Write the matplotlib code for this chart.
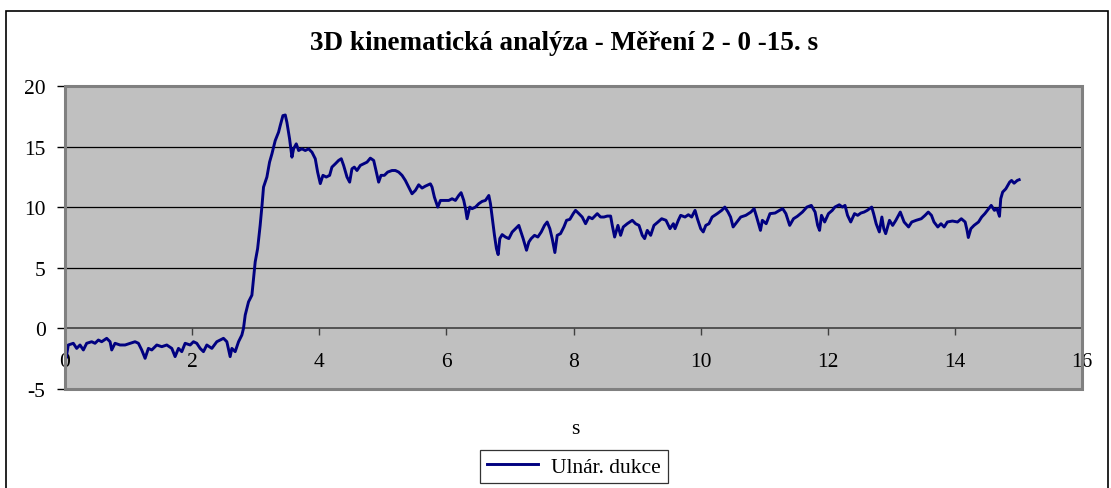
import matplotlib
matplotlib.use('Agg')
from matplotlib import pyplot as plt
from matplotlib.patches import Rectangle

#values (time in s, angle)
time_s = [0.0, 0.016, 0.052, 0.131, 0.184, 0.236, 0.289, 0.341, 0.42, 0.472,
          0.525, 0.577, 0.656, 0.709, 0.735, 0.787, 0.866, 0.945, 1.024, 1.102,
          1.155, 1.207, 1.26, 1.312, 1.365, 1.444, 1.522, 1.601, 1.68, 1.732,
          1.785, 1.837, 1.89, 1.969, 2.021, 2.073, 2.126, 2.178, 2.231, 2.31,
          2.388, 2.441, 2.493, 2.546, 2.598, 2.625, 2.677, 2.73, 2.782, 2.808,
          2.835, 2.887, 2.94, 2.966, 2.992, 3.03, 3.07, 3.10, 3.123, 3.176,
          3.218, 3.255, 3.307, 3.36, 3.386, 3.428, 3.465, 3.491, 3.533, 3.57,
          3.596, 3.638, 3.675, 3.727, 3.78, 3.832, 3.885, 3.937, 3.974, 4.016,
          4.058, 4.11, 4.163, 4.199, 4.252, 4.304, 4.346, 4.383, 4.436, 4.478,
          4.514, 4.551, 4.593, 4.646, 4.698, 4.751, 4.803, 4.856, 4.898, 4.934,
          4.971, 5.024, 5.076, 5.144, 5.197, 5.249, 5.302, 5.354, 5.407, 5.459,
          5.512, 5.564, 5.617, 5.669, 5.748, 5.774, 5.811, 5.864, 5.906, 5.984,
          6.037, 6.089, 6.142, 6.194, 6.231, 6.273, 6.30, 6.325, 6.367, 6.404,
          6.457, 6.509, 6.562, 6.614, 6.667, 6.693, 6.719, 6.756, 6.787, 6.814,
          6.84, 6.877, 6.929, 6.982, 7.034, 7.087, 7.139, 7.165, 7.207, 7.26,
          7.297, 7.333, 7.386, 7.438, 7.491, 7.543, 7.585, 7.627, 7.664, 7.706,
          7.743, 7.795, 7.848, 7.89, 7.942, 7.995, 8.031, 8.084, 8.136, 8.189,
          8.241, 8.294, 8.373, 8.425, 8.478, 8.53, 8.583, 8.609, 8.646, 8.698,
          8.74, 8.782, 8.845, 8.924, 8.976, 9.029, 9.081, 9.118, 9.16, 9.213,
          9.265, 9.328, 9.386, 9.454, 9.517, 9.57, 9.596, 9.648, 9.685, 9.753,
          9.806, 9.858, 9.911, 9.948, 10.0, 10.04, 10.08, 10.13, 10.18, 10.26,
          10.33, 10.38, 10.43, 10.47, 10.51, 10.57, 10.63, 10.71, 10.79, 10.84,
          10.88, 10.94, 10.97, 11.03, 11.09, 11.17, 11.24, 11.29, 11.34, 11.40,
          11.46, 11.52, 11.60, 11.67, 11.74, 11.80, 11.84, 11.87, 11.90, 11.95,
          12.01, 12.07, 12.11, 12.18, 12.23, 12.27, 12.31, 12.36, 12.42, 12.47,
          12.52, 12.57, 12.62, 12.69, 12.72, 12.76, 12.81, 12.85, 12.88, 12.91,
          12.97, 13.02, 13.07, 13.14, 13.20, 13.27, 13.32, 13.39, 13.47, 13.53,
          13.58, 13.63, 13.67, 13.73, 13.78, 13.83, 13.88, 13.96, 14.04, 14.10,
          14.16, 14.19, 14.21, 14.25, 14.30, 14.37, 14.42, 14.47, 14.53, 14.57,
          14.62, 14.66, 14.70, 14.72, 14.75, 14.80, 14.86, 14.89, 14.93, 14.98,
          15.01]

ulnar_dukce = [0.0, -2.47, -1.37, -1.23, -1.65, -1.37, -1.78, -1.23, -1.10, -1.23,
               -0.96, -1.10, -0.82, -1.10, -1.78, -1.23, -1.37, -1.37, -1.23, -1.10,
               -1.23, -1.78, -2.47, -1.65, -1.78, -1.37, -1.51, -1.37, -1.65, -2.33,
               -1.65, -1.92, -1.23, -1.37, -1.10, -1.23, -1.65, -1.92, -1.37, -1.65,
               -1.10, -0.96, -0.82, -1.10, -2.33, -1.65, -1.92, -1.10, -0.55, 0.0,
               1.10, 2.19, 2.74, 4.10, 5.49, 6.58, 8.50, 10.2, 11.66, 12.49,
               13.72, 14.4, 15.5, 16.2, 16.74, 17.56, 17.61, 17.0, 15.64, 14.13,
               14.82, 15.23, 14.68, 14.82, 14.68, 14.82, 14.54, 14.0, 12.9, 11.95,
               12.63, 12.49, 12.63, 13.31, 13.58, 13.86, 14.0, 13.45, 12.49, 12.07,
               13.17, 13.31, 13.03, 13.45, 13.58, 13.72, 14.05, 13.86, 12.9, 12.07,
               12.63, 12.63, 12.9, 13.03, 13.03, 12.9, 12.63, 12.21, 11.66, 11.11,
               11.39, 11.85, 11.58, 11.74, 11.93, 11.66, 10.83, 10.01, 10.56, 10.56,
               10.56, 10.7, 10.56, 10.97, 11.2, 10.56, 9.88, 9.05, 10.01, 9.88,
               10.01, 10.29, 10.48, 10.56, 10.97, 10.29, 9.19, 7.68, 6.58, 6.09,
               7.41, 7.74, 7.54, 7.41, 7.95, 8.23, 8.5, 8.09, 7.41, 6.45,
               7.13, 7.41, 7.68, 7.54, 7.95, 8.5, 8.78, 8.23, 7.41, 6.26,
               7.68, 7.82, 8.37, 8.92, 9.0, 9.47, 9.74, 9.47, 9.19, 8.64,
               9.19, 9.05, 9.47, 9.19, 9.19, 9.27, 9.27, 8.5, 7.54, 8.5,
               7.68, 8.37, 8.64, 8.92, 8.64, 8.5, 7.68, 7.41, 8.09, 7.68,
               8.5, 8.78, 9.05, 8.92, 8.23, 8.64, 8.23, 8.92, 9.33, 9.19,
               9.38, 9.19, 9.74, 9.05, 8.23, 7.96, 8.5, 8.64, 9.19, 9.47,
               9.74, 10.01, 9.6, 9.19, 8.37, 8.78, 9.19, 9.33, 9.6, 9.88,
               9.19, 8.09, 8.92, 8.64, 9.47, 9.52, 9.74, 9.88, 9.47, 8.5,
               9.05, 9.25, 9.6, 10.01, 10.15, 9.6, 8.5, 8.09, 9.33, 8.78,
               9.47, 9.74, 10.01, 10.2, 10.01, 10.15, 9.33, 8.78, 9.47, 9.33,
               9.52, 9.6, 9.74, 10.01, 9.47, 8.64, 7.96, 9.19, 8.23, 7.82,
               8.92, 8.5, 8.92, 9.6, 8.78, 8.37, 8.78, 8.92, 9.05, 9.33,
               9.6, 9.33, 8.78, 8.37, 8.64, 8.37, 8.78, 8.86, 8.78, 9.05,
               8.78, 8.09, 7.5, 8.23, 8.5, 8.78, 9.19, 9.47, 9.88, 10.15,
               9.74, 9.88, 9.25, 10.7, 11.25, 11.52, 12.07, 12.21, 11.98, 12.21,
               12.27]

x_ticks = [0, 2, 4, 6, 8, 10, 12, 14, 16]
y_ticks = [-5, 0, 5, 10, 15, 20]

plt.rcParams['font.family'] = ['Liberation Serif', 'DejaVu Serif']
plt.rcParams['axes.unicode_minus'] = False

fig = plt.figure(figsize=(11.11, 4.89), dpi=100)
ax = fig.add_axes([0.0585, 0.2025, 0.9155, 0.6195])
ax.set_facecolor('#C0C0C0')

ax.plot(time_s, ulnar_dukce, color='#000080', lw=2.1, label='Ulnár. dukce', zorder=3)

ax.set_xlim(0, 16)
ax.set_ylim(-5, 20)
ax.set_xticks(x_ticks)
ax.set_yticks(y_ticks)

#horizontal gridlines only
for yv in y_ticks[2:-1]:
    ax.axhline(yv, color='black', lw=0.9, zorder=1)

#x axis crosses at zero, plot area keeps a grey border
ax.spines['bottom'].set_position(('data', 0))
ax.spines['bottom'].set_color('#404040')
ax.spines['bottom'].set_linewidth(1.2)
ax.spines['left'].set_color('black')
ax.spines['left'].set_linewidth(1.0)
ax.spines['top'].set_visible(False)
ax.spines['right'].set_visible(False)
ax.add_patch(Rectangle((0, 0), 1, 1, transform=ax.transAxes, fill=False,
                       edgecolor='#808080', lw=2.2, zorder=4, clip_on=False))

ax.tick_params(axis='x', direction='out', length=5, width=1, color='#404040',
               labelsize=15.5, pad=12)
ax.tick_params(axis='y', direction='out', length=6, width=1, color='black',
               labelsize=15.5, pad=8)

fig.text(0.508, 0.912, '3D kinematická analýza - Měření 2 - 0 -15. s',
         ha='center', va='center', fontsize=19.5, fontweight='bold')
fig.text(0.5175, 0.121, 's', ha='center', va='center', fontsize=15.5)

leg = fig.legend(loc='center', bbox_to_anchor=(0.5166, 0.043), fontsize=15.5,
                 frameon=True, fancybox=False, handlelength=2.4,
                 borderpad=0.3, handletextpad=0.6)
leg.get_frame().set_edgecolor('black')
leg.get_frame().set_linewidth(0.9)

#outer chart border
fig.add_artist(Rectangle((0.0054, -0.05), 0.9920, 0.9755 + 0.05,
                         transform=fig.transFigure, fill=False,
                         edgecolor='black', lw=1.2))

plt.savefig('out.png', dpi=100)
